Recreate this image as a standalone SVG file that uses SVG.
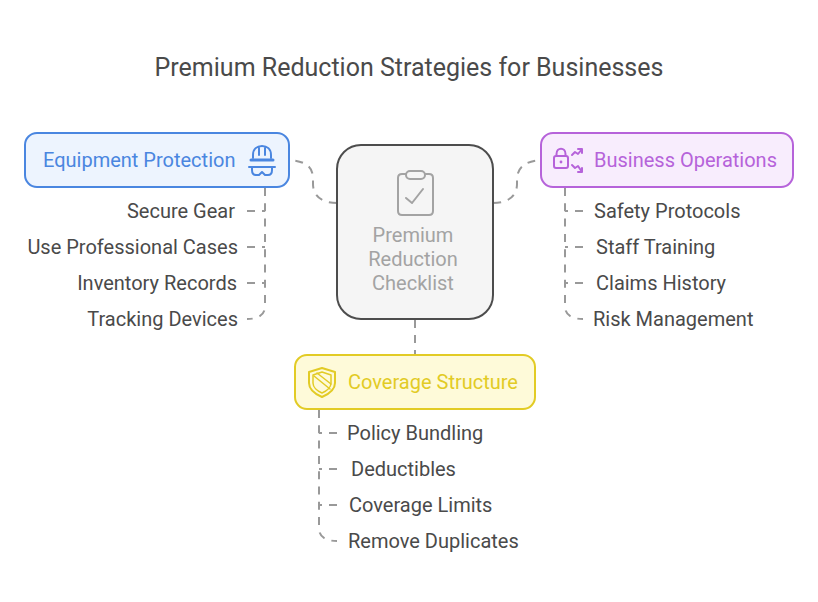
<svg xmlns="http://www.w3.org/2000/svg" width="818" height="602" viewBox="0 0 818 602">
<style>
text{font-family:Roboto,"Liberation Sans",sans-serif;font-size:20px;fill:#4a4a4a;dominant-baseline:alphabetic}
.conn{fill:none;stroke:#999;stroke-width:2;stroke-dasharray:8 7}
.trunk{stroke-dasharray:8 7.300}
.box{stroke-width:2}
.ic{fill:none;stroke-width:2;stroke-linecap:round;stroke-linejoin:round}
</style>
<rect width="818" height="602" fill="#fff"/>
<text id="title" x="409" y="76" text-anchor="middle" style="font-size:25px">Premium Reduction Strategies for Businesses</text>
<g id="connectors">
<path class="conn" d="M337 203C322 203 313 196 313 184C313 175 315 162 290 160"/>
<path class="conn" d="M493 203C508 203 517 196 517 184C517 175 516 162 541 160"/>
<path class="conn" d="M415 320V355"/>
<path class="conn trunk" d="M265 188V306Q265 319 247 319"/>
<path class="conn" d="M247 211H265"/>
<path class="conn" d="M247 247H265"/>
<path class="conn" d="M247 283H265"/>
<path class="conn trunk" d="M565 188V306Q565 319 583 319"/>
<path class="conn" d="M583 211H565"/>
<path class="conn" d="M583 247H565"/>
<path class="conn" d="M583 283H565"/>
<path class="conn trunk" d="M319 410V528Q319 541 337 541"/>
<path class="conn" d="M337 433H319"/>
<path class="conn" d="M337 469H319"/>
<path class="conn" d="M337 505H319"/>
</g>
<g id="center">
<rect x="337" y="145" width="156" height="174" rx="24" fill="#f5f5f5" stroke="#4d4d4d" stroke-width="2"/>
<g class="ic" stroke="#a3a3a3">
<path d="M406 174H402Q398 174 398 178V211Q398 215 402 215H429Q433 215 433 211V178Q433 174 429 174H425"/>
<rect x="406" y="171" width="19" height="8" rx="4"/>
<path d="M406 198L412 203L423 189"/>
</g>
<text x="413" y="242" text-anchor="middle" style="fill:#a3a3a3">Premium</text>
<text x="413" y="266" text-anchor="middle" style="fill:#a3a3a3">Reduction</text>
<text x="413" y="290" text-anchor="middle" style="fill:#a3a3a3">Checklist</text>
</g>
<g id="equipment">
<rect class="box" x="25" y="133" width="264" height="54" rx="12" fill="#edf4fe" stroke="#4a86e0"/>
<text x="43" y="167" style="fill:#4a86e0">Equipment Protection</text>
<g class="ic" stroke="#4a86e0">
<path d="M253 158V155C253 149 257 146 262 146C267 146 271 149 271 155V158M259 147V155M265 147V155"/>
<path d="M251 160H273" stroke-width="3"/>
<path d="M249 167H275M252 167V170Q252 175 256 175H259L262 172L265 175H268Q272 175 272 170V167"/>
</g>
</g>
<g id="operations">
<rect class="box" x="541" y="133" width="252" height="54" rx="12" fill="#f8edfd" stroke="#b663da"/>
<text x="594" y="167" style="fill:#b663da">Business Operations</text>
<g class="ic" stroke="#b663da">
<rect x="554" y="156" width="14" height="12" rx="2"/>
<path d="M556.500 156V154C556.500 147 565.500 147 565.500 154V156"/>
<path d="M572 155L575 152L578 154L582 149M578 149H582V153"/>
<path d="M572 165L575 168L578 166L582 172M578 172H582V168"/>
</g>
<circle cx="561" cy="162" r="1.400" fill="#b663da"/>
</g>
<g id="coverage">
<rect class="box" x="295" y="355" width="240" height="54" rx="12" fill="#fefad9" stroke="#e2cb25"/>
<text x="348" y="389" style="fill:#e2cb25">Coverage Structure</text>
<g class="ic" stroke="#e2cb25">
<path d="M322 368L335 372V383C335 389 329 394 322 397C315 394 309 389 309 383V372Z"/>
<path d="M322 372L331 375V383C331 387 327 391 322 393C317 391 313 387 313 383V375Z" stroke-width="1.500"/>
<path d="M314 376L330 389M317 373L331 384" stroke-width="1.500"/>
</g>
</g>
<g id="equipment-items" text-anchor="end">
<text x="235" y="218">Secure Gear</text>
<text x="238" y="254">Use Professional Cases</text>
<text x="237" y="290">Inventory Records</text>
<text x="238" y="326">Tracking Devices</text>
</g>
<g id="operations-items">
<text x="594" y="218">Safety Protocols</text>
<text x="596" y="254">Staff Training</text>
<text x="596" y="290">Claims History</text>
<text x="593" y="326">Risk Management</text>
</g>
<g id="coverage-items">
<text x="347" y="440">Policy Bundling</text>
<text x="351" y="476">Deductibles</text>
<text x="349" y="512">Coverage Limits</text>
<text x="348" y="548">Remove Duplicates</text>
</g>
</svg>
